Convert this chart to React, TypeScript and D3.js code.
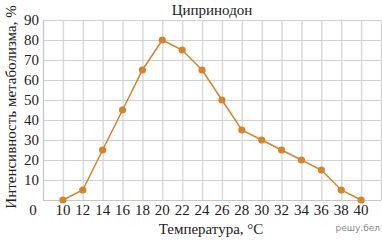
import React from "react";
import * as d3 from "d3";

const temps = [10, 12, 14, 16, 18, 20, 22, 24, 26, 28, 30, 32, 34, 36, 38, 40];
const rates = [0, 5, 25, 45, 65, 80, 75, 65, 50, 35, 30, 25, 20, 15, 5, 0];
const xTicks = [10, 12, 14, 16, 18, 20, 22, 24, 26, 28, 30, 32, 34, 36, 38, 40];
const xGrid = [8, 10, 12, 14, 16, 18, 20, 22, 24, 26, 28, 30, 32, 34, 36, 38, 40, 42];
const yTicks = [10, 20, 30, 40, 50, 60, 70, 80, 90];
const title = "Ципринодон";
const xLabel = "Температура, °C";
const yLabel = "Интенсивность метаболизма, %";

const W = 382, H = 241;
const L = 43, R = 381, T = 20, B = 200;

export default function App() {
  const x = d3.scaleLinear().domain([8, 42]).range([L, R]);
  const y = d3.scaleLinear().domain([0, 90]).range([B, T]);
  const pts = temps.map((t, i) => [x(t), y(rates[i])] as [number, number]);
  const line = d3.line()(pts) || "";
  const color = "#d6842a";
  const font = "'Liberation Serif', 'Times New Roman', serif";
  return (
    <svg width={W} height={H} style={{ position: "absolute", left: 0, top: 0, background: "#fff" }}>
      <g stroke="#d0d0d0" strokeWidth={1}>
        {xGrid.map((v) => (
          <line key={"gx" + v} x1={x(v) + 0.5} x2={x(v) + 0.5} y1={T} y2={B} strokeWidth={1.5} stroke="#dadada" />
        ))}
        {yTicks.map((v) => (
          <line key={"gy" + v} x1={L} x2={R} y1={y(v) + 0.5} y2={y(v) + 0.5} />
        ))}
        <line x1={L} x2={R} y1={B + 0.5} y2={B + 0.5} stroke="#c8c8c8" />
        <line x1={L + 0.5} x2={L + 0.5} y1={T} y2={B} stroke="#c8c8c8" />
      </g>
      <path d={line} fill="none" stroke={color} strokeWidth={1.5} />
      {pts.map(([px, py], i) => (
        <circle key={i} cx={px} cy={py} r={3.6} fill={color} />
      ))}
      <g fontFamily={font} fontSize={15} fill="#222">
        {yTicks.map((v) => (
          <text key={"ty" + v} x={39} y={y(v) + 5} textAnchor="end">{v}</text>
        ))}
        <text x={33} y={215} textAnchor="middle">0</text>
        {xTicks.map((v) => (
          <text key={"tx" + v} x={x(v)} y={215} textAnchor="middle">{v}</text>
        ))}
        <text x={212} y={15} textAnchor="middle">{title}</text>
        <text x={211} y={234} textAnchor="middle">{xLabel}</text>
        <text transform={`translate(16,${107}) rotate(-90)`} textAnchor="middle">{yLabel}</text>
      </g>
      <text x={380} y={231} textAnchor="end" fontFamily="'DejaVu Sans', sans-serif" fontSize={9} fill="#8a8a8a">решу.бел</text>
    </svg>
  );
}
